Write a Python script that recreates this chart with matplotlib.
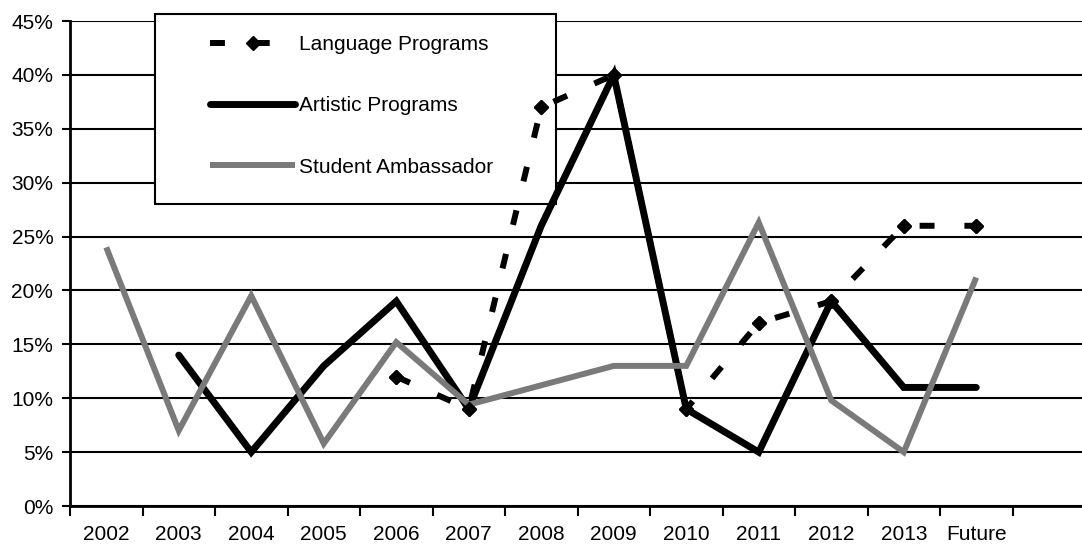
import numpy as np
import matplotlib
matplotlib.use('Agg')
import matplotlib.pyplot as plt
from matplotlib.ticker import PercentFormatter, FixedLocator
from matplotlib.patches import Rectangle

plt.rcParams['font.family'] = ['Liberation Sans', 'DejaVu Sans']

years = ['2002', '2003', '2004', '2005', '2006', '2007', '2008',
         '2009', '2010', '2011', '2012', '2013', 'Future']
language = [np.nan, np.nan, np.nan, np.nan, 12, 9, 37, 40, 9, 17, 19, 26, 26]
artistic = [np.nan, 14, 5, 13, 19, 9, 26, 40, 9, 5, 19, 11, 11]
student = [24, 7, 19.5, 5.8, 15.2, 9.4, 11.2, 13, 13, 26.3, 9.8, 5, 21.2]

W, H = 1082, 547
fig = plt.figure(figsize=(W / 100, H / 100), dpi=100, facecolor='white')
# axes box in pixels: left 70, right 1085, top 21, bottom 506
ax = fig.add_axes([70 / W, (H - 506) / H, (1085 - 70) / W, (506 - 21) / H])

x = np.arange(len(years))

l1, = ax.plot(x, language, color='black', lw=4.3, linestyle=(0, (2.5, 5)),
              dash_capstyle='butt', marker='D', markersize=7,
              label='Language Programs', zorder=3)
l2, = ax.plot(x, artistic, color='black', lw=5, solid_capstyle='round',
              solid_joinstyle='miter', label='Artistic Programs', zorder=4)
l3, = ax.plot(x, student, color='#7a7a7a', lw=4.3, solid_capstyle='butt',
              solid_joinstyle='miter', label='Student Ambassador', zorder=5)
# markers of the dashed series sit on top
ax.plot(x, language, linestyle='none', marker='D', markersize=7,
        color='black', zorder=6)

ax.set_xlim(-0.5, 13.5)
ax.set_ylim(0, 45)
ax.yaxis.set_major_locator(FixedLocator(np.arange(0, 46, 5)))
ax.yaxis.set_major_formatter(PercentFormatter(100, decimals=0))
ax.grid(axis='y', color='black', lw=1.5, zorder=0)
ax.set_axisbelow(True)

ax.set_xticks(x)
ax.set_xticklabels(years)
ax.set_xticks(np.arange(-0.5, 14, 1), minor=True)
ax.tick_params(axis='x', which='major', length=0, pad=14, labelsize=15)
ax.tick_params(axis='x', which='minor', length=7, width=1.5, direction='out')
ax.tick_params(axis='y', length=6, width=1.5, pad=6, labelsize=15)

for s in ['top', 'right']:
    ax.spines[s].set_visible(False)
for s in ['left', 'bottom']:
    ax.spines[s].set_linewidth(2)

# legend box: above the grid, below the data lines
ax.add_patch(Rectangle((155 / W, (H - 204) / H), 401 / W, 190 / H,
                       transform=fig.transFigure, facecolor='white',
                       edgecolor='black', lw=1.5, zorder=1, clip_on=False))
leg = fig.legend(handles=[l1, l2, l3], loc='upper left',
                 bbox_to_anchor=(210 / W, (H - 35) / H), frameon=False,
                 fontsize=15, handlelength=4.1, handletextpad=0.15,
                 labelspacing=2.03, borderpad=0, borderaxespad=0)

fig.savefig('out.png', dpi=100)
